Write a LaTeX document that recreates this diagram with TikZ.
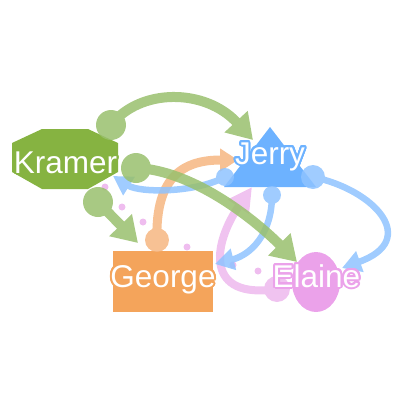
\documentclass[tikz,border=0pt]{standalone}
\usepackage{fontspec}
\setmainfont{Liberation Sans}
\usepackage{contour}
\contourlength{2pt}
\contournumber{24}
\usetikzlibrary{arrows.meta}
\definecolor{kgreen}{HTML}{86B341}
\definecolor{jblue}{HTML}{6DB2FF}
\definecolor{gorange}{HTML}{F4A45B}
\definecolor{epink}{HTML}{EBA2EA}
\definecolor{egreen}{RGB}{153,192,109}
\definecolor{eblue}{RGB}{143,195,255}
\definecolor{eorange}{RGB}{246,182,129}
\definecolor{epinkl}{RGB}{237,185,237}
\definecolor{dotpink}{HTML}{EFBDEF}
\tikzset{
  lab/.style={text=white, font=\fontsize{31.5}{36}\selectfont, inner sep=0pt, anchor=base},
  egrp/.style={transparency group, opacity=0.85},
  greenedge/.style={draw=egreen, line width=10pt, -{Triangle[length=25pt,width=30pt]}},
  blueedge/.style={draw=eblue, line width=6.5pt, -{Triangle[length=19pt,width=21pt]}},
  orangeedge/.style={draw=eorange, line width=9pt, -{Triangle[length=18pt,width=22pt]}},
  pinkedge/.style={draw=epinkl, line width=8pt, -{Triangle[length=24pt,width=24pt]}},
}
\begin{document}
\begin{tikzpicture}[x=1pt,y=-1pt]
\useasboundingbox (0,0) rectangle (400,400);
% dotted link
\foreach \p in {(105,187),(122,207),(143,222),(187,247),(233,265),(258,271)}
  \fill[dotpink] \p circle (3.5);
% node shapes
\coordinate (K) at (65,159);
\coordinate (J) at (270,164);
\coordinate (G) at (163,281);
\coordinate (E) at (316,282);
\fill[kgreen] (42,129)--(88,129)--(118,143)--(118,172)--(88,189)--(42,189)--(12,172)--(12,143)--cycle;
\fill[jblue] (270,127)--(316,187)--(224,187)--cycle;
\fill[gorange] (113,251) rectangle (213,312);
\fill[epink] (E) ellipse [x radius=24, y radius=30];
% edge end points
\coordinate (kj1) at (111,125); \coordinate (kj2) at (253,140);
\coordinate (ke1) at (136,168); \coordinate (ke2) at (297,262);
\coordinate (kg1) at (98,202);  \coordinate (kg2) at (138,243);
\coordinate (jk1) at (225,177); \coordinate (jk2) at (113,176);
\coordinate (jg1) at (272,195); \coordinate (jg2) at (215,264);
\coordinate (je1) at (313,177); \coordinate (je2) at (342,268);
\coordinate (gj1) at (157,240); \coordinate (gj2) at (238,160);
\coordinate (ej1) at (277,289); \coordinate (ej2) at (252,187);
% edges
\begin{scope}[egrp]
  \fill[eorange] (gj1) circle (12);
  \draw[orangeedge] (gj1) .. controls (155,175) and (185,160) .. (gj2);
\end{scope}
\begin{scope}[egrp]
  \fill[epinkl] (ej1) circle (13);
  \draw[pinkedge] (ej1) .. controls (205,300) and (212,245) .. (ej2);
\end{scope}
\begin{scope}[egrp]
  \fill[eblue] (jk1) circle (9);
  \draw[blueedge] (jk1) .. controls (195,193) and (140,193) .. (jk2);
\end{scope}
\begin{scope}[egrp]
  \fill[eblue] (jg1) circle (9);
  \draw[blueedge] (jg1) .. controls (272,235) and (250,255) .. (jg2);
\end{scope}
\begin{scope}[egrp]
  \fill[eblue] (je1) circle (12);
  \draw[blueedge] (je1) .. controls (375,190) and (420,240) .. (je2);
\end{scope}
\begin{scope}[egrp]
  \fill[egreen] (kj1) circle (15);
  \draw[greenedge] (kj1) .. controls (140,88) and (205,88) .. (kj2);
\end{scope}
\begin{scope}[egrp]
  \fill[egreen] (ke1) circle (15);
  \draw[greenedge] (ke1) .. controls (190,170) and (250,215) .. (ke2);
\end{scope}
\begin{scope}[egrp]
  \fill[egreen] (kg1) circle (15);
  \draw[greenedge] (kg1) -- (kg2);
\end{scope}
% labels
\node[lab] (Kl) at (65.5,173) {\contour{kgreen}{Kramer}};
\node[lab] (Jl) at (270,164) {\contour{jblue}{Jerry}};
\node[lab] (Gl) at (163,287) {\contour{gorange}{George}};
\node[lab] (El) at (316.5,287) {\contour{epink}{Elaine}};
\end{tikzpicture}
\end{document}
